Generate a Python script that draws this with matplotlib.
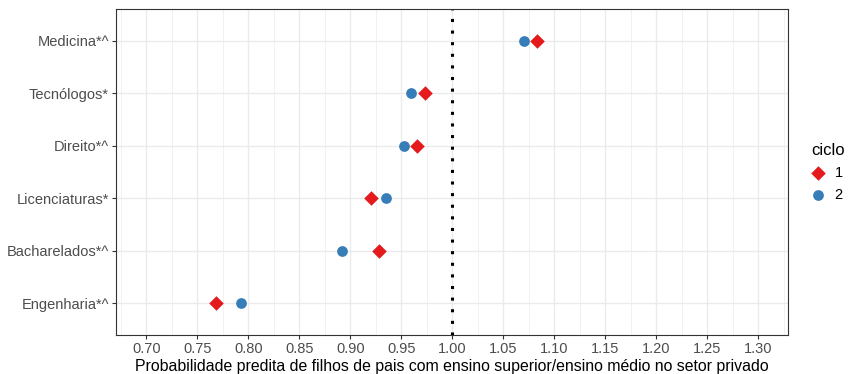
import matplotlib.pyplot as plt
import numpy as np

plt.rcParams['font.family'] = ['Liberation Sans', 'DejaVu Sans']

cursos = ["Engenharia*^", "Bacharelados*^", "Licenciaturas*", "Direito*^", "Tecnólogos*", "Medicina*^"]
ciclo1 = [0.768, 0.928, 0.920, 0.966, 0.973, 1.083]
ciclo2 = [0.793, 0.892, 0.935, 0.953, 0.960, 1.070]
xticks = [0.70, 0.75, 0.80, 0.85, 0.90, 0.95, 1.00, 1.05, 1.10, 1.15, 1.20, 1.25, 1.30]

red = "#E41A1C"
blue = "#377EB8"
grey20 = "#333333"

fig = plt.figure(figsize=(8.53, 3.74), dpi=100)
ax = fig.add_axes([0.136, 0.1043, 0.7878, 0.8717])

y = np.arange(1, len(cursos) + 1)

# grid (theme_bw style)
ax.set_xticks(xticks)
ax.set_xticks([t + 0.025 for t in [0.65] + xticks], minor=True)
ax.set_yticks(y)
ax.grid(which="major", color="#EBEBEB", linewidth=1.0, zorder=0)
ax.grid(which="minor", axis="x", color="#EBEBEB", linewidth=0.5, zorder=0)
ax.set_axisbelow(True)

ax.axvline(1.0, color="black", linewidth=2.2, linestyle=(0, (1, 2.8)),
           dash_capstyle="butt", zorder=2)

ax.scatter(ciclo2, y, marker="o", s=60, color=blue, linewidths=0, zorder=3, label="2")
ax.scatter(ciclo1, y, marker="D", s=55, color=red, linewidths=0, zorder=3, label="1")

ax.set_xlim(0.6703, 1.3294)
ax.set_ylim(0.4, 6.6)
ax.set_xticklabels([f"{t:.2f}" for t in xticks])
ax.set_yticklabels(cursos)
ax.tick_params(which="major", length=3, width=0.8, color=grey20,
               labelcolor="#4D4D4D", labelsize=10.5, pad=2)
ax.tick_params(which="minor", length=0)
for s in ax.spines.values():
    s.set_color(grey20)
    s.set_linewidth(0.8)

ax.set_xlabel("Probabilidade predita de filhos de pais com ensino superior/ensino médio no setor privado",
              fontsize=11.4, color="black", labelpad=2)

h, l = ax.get_legend_handles_labels()
leg = fig.legend(h[::-1], l[::-1], title="ciclo", loc="center left",
                 bbox_to_anchor=(0.944, 0.54), frameon=False, fontsize=10.5,
                 title_fontsize=12, handletextpad=0.6, labelspacing=0.55,
                 borderaxespad=0, handlelength=1.0)
leg._legend_box.align = "left"

fig.savefig("out.png", dpi=100)
